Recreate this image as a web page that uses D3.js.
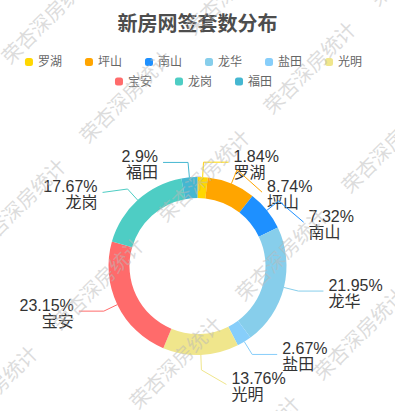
<!DOCTYPE html>
<html>
<head>
<meta charset="utf-8">
<script src="https://cdn.jsdelivr.net/npm/d3@7/dist/d3.min.js"></script>
<style>
html,body{margin:0;padding:0;background:#fff;}
svg{display:block;}
</style>
</head>
<body>
<svg id="chart" width="395" height="411"></svg>
<script>
const title = '新房网签套数分布';
const categories = ['罗湖','坪山','南山','龙华','盐田','光明','宝安','龙岗','福田'];
const shares = [1.84, 8.74, 7.32, 21.95, 2.67, 13.76, 23.15, 17.67, 2.9];
const colors = ['#FFD700','#FFA500','#1E90FF','#87CEEB','#87CEFA','#F0E68C','#FF6B6B','#4ECDC4','#45B7D1'];
const legendRows = [['罗湖','坪山','南山','龙华','盐田','光明'],['宝安','龙岗','福田']];
const watermarkText = '荣杏深房统计';

const W = 395, H = 411;
const FONT = '"Liberation Sans","Noto Sans CJK SC",sans-serif';
const svg = d3.select('#chart');

const color = d3.scaleOrdinal().domain(categories).range(colors);

// Title
svg.append('text')
  .attr('x', W/2).attr('y', 24)
  .attr('text-anchor','middle').attr('dominant-baseline','central')
  .attr('font-family', FONT).attr('font-size', 20).attr('font-weight','bold')
  .attr('fill', '#4d4d4d').text(title);

// Legend
const legendCenter = W/2 - 4;
const iconSize = 8, iconGap = 5, itemGap = 23;
legendRows.forEach((row, ri) => {
  const y = 62 + ri * 19.5;
  const tmp = svg.append('g');
  const widths = row.map(name => {
    const t = tmp.append('text').attr('font-family', FONT).attr('font-size', 12).text(name);
    const w = t.node().getComputedTextLength(); return w;
  });
  tmp.remove();
  const itemW = widths.map(w => iconSize + iconGap + w);
  const total = d3.sum(itemW) + itemGap * (row.length - 1);
  let x = legendCenter - total/2;
  row.forEach((name, i) => {
    const g = svg.append('g').attr('transform', `translate(${x},${y})`);
    g.append('rect').attr('x',0).attr('y',-iconSize/2).attr('width',iconSize).attr('height',iconSize)
      .attr('rx',2.5).attr('fill', color(name));
    g.append('text').attr('x', iconSize + iconGap).attr('y', 0)
      .attr('dominant-baseline','central').attr('font-family', FONT).attr('font-size', 12)
      .attr('fill','#666').text(name);
    x += itemW[i] + itemGap;
  });
});

// Pie
const cx = W/2, cy = 266, rOuter = 89, rInner = 68;
const pie = d3.pie().sort(null).value(d => d.v).startAngle(0).endAngle(2*Math.PI);
const data = categories.map((c,i) => ({name:c, v:shares[i]}));
const arcs = pie(data);
const arc = d3.arc().innerRadius(rInner).outerRadius(rOuter);
const gPie = svg.append('g').attr('transform', `translate(${cx},${cy})`);
gPie.selectAll('path').data(arcs).enter().append('path')
  .attr('d', arc).attr('fill', d => color(d.data.name));

// Label layout
const len1 = 15, len2 = 25, labelH = 30;
const labels = arcs.map(d => {
  const m = (d.startAngle + d.endAngle)/2;
  const s = Math.sin(m), c = -Math.cos(m);
  const p0 = [cx + rOuter*s, cy + rOuter*c];
  const p1 = [p0[0] + len1*s, p0[1] + len1*c];
  return {d, p0, p1, side: s >= 0 ? 1 : -1, y: p1[1]};
});
[1,-1].forEach(side => {
  const list = labels.filter(l => l.side === side).sort((a,b) => a.y - b.y);
  for (let i = 1; i < list.length; i++) {
    if (list[i].y - list[i-1].y < labelH) list[i].y = list[i-1].y + labelH;
  }
});
const gLab = svg.append('g');
labels.forEach(l => {
  const p2 = [l.p1[0] + l.side*len2, l.y];
  gLab.append('polyline')
    .attr('points', [l.p0, l.p1, p2].map(p => p.join(',')).join(' '))
    .attr('fill','none').attr('stroke', color(l.d.data.name)).attr('stroke-width',1);
  const t = gLab.append('text')
    .attr('x', p2[0] + l.side*5)
    .attr('text-anchor', l.side > 0 ? 'start' : 'end')
    .attr('font-family', FONT).attr('font-size', 16).attr('fill','#333');
  t.append('tspan').attr('x', p2[0] + l.side*5).attr('y', l.y - 8 + 2)
    .attr('dominant-baseline','central').text(l.d.data.v + '%');
  t.append('tspan').attr('x', p2[0] + l.side*5).attr('y', l.y + 8 + 2)
    .attr('dominant-baseline','central').text(l.d.data.name);
});

// Watermark
const gW = svg.append('g').attr('pointer-events','none');
const O = [203, 175], A = [106, -108], B = [78, 79];
for (let i = -4; i <= 4; i++) {
  for (let j = -4; j <= 4; j++) {
    const x = O[0] + i*A[0] + j*B[0], y = O[1] + i*A[1] + j*B[1];
    if (x < -70 || x > W + 70 || y < -70 || y > H + 70) continue;
    gW.append('text')
      .attr('transform', `translate(${x},${y}) rotate(-45)`)
      .attr('text-anchor','middle').attr('dominant-baseline','central')
      .attr('font-family','"Noto Sans CJK SC",sans-serif').attr('font-size', 20)
      .attr('fill','rgba(185,185,185,0.5)').text(watermarkText);
  }
}
</script>
</body>
</html>
